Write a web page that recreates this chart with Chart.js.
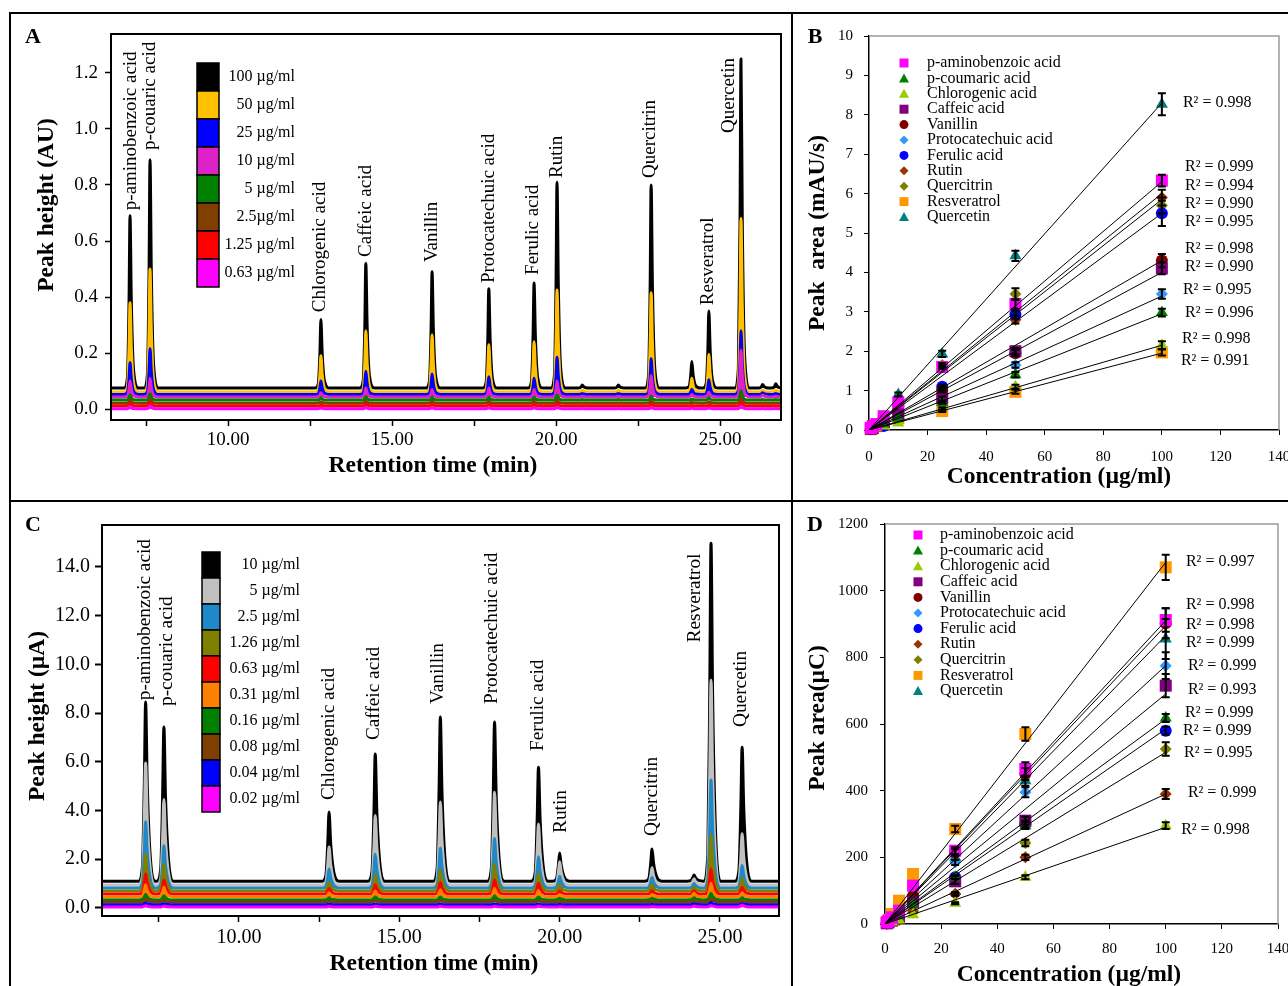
<!DOCTYPE html>
<html><head><meta charset="utf-8">
<script src="https://cdn.jsdelivr.net/npm/chart.js@4.4.1/dist/chart.umd.min.js"></script>
<style>
html,body{margin:0;padding:0;background:#fff;}
body{width:1288px;height:986px;overflow:hidden;position:relative;}
.ln{position:absolute;background:#000;}
canvas{position:absolute;}
</style></head>
<body>
<div class="ln" style="left:9px;top:12px;width:1279px;height:2px"></div>
<div class="ln" style="left:9px;top:12px;width:2px;height:974px"></div>
<div class="ln" style="left:9px;top:500px;width:1279px;height:2px"></div>
<div class="ln" style="left:791px;top:12px;width:2px;height:974px"></div>
<canvas id="cA" width="780" height="486" style="left:11px;top:14px"></canvas>
<canvas id="cB" width="495" height="486" style="left:793px;top:14px"></canvas>
<canvas id="cC" width="780" height="484" style="left:11px;top:502px"></canvas>
<canvas id="cD" width="495" height="484" style="left:793px;top:502px"></canvas>
<script>
// ======================= DATA =======================
// ---- Panel A : HPLC-UV chromatograms (peak retention times in min, apex heights in AU)
const retentionA = [7.01,7.62,12.83,14.20,16.22,17.95,19.33,20.03,20.80,21.90,22.90,24.14,24.66,25.64,26.30,26.70];
const concLabelsA = ['100 µg/ml','50 µg/ml','25 µg/ml','10 µg/ml','5 µg/ml','2.5µg/ml','1.25 µg/ml','0.63 µg/ml'];
const baselineA = [0.075,0.061,0.052,0.043,0.032,0.021,0.011,0.001];
const apexA_100  = [0.69,0.89,0.32,0.52,0.49,0.43,0.45,0.81,0.086,0.086,0.80,0.17,0.35,1.25,0.088,0.09];
const apexA_50   = [0.38,0.50,0.19,0.28,0.265,0.23,0.24,0.425,0.068,0.068,0.415,0.11,0.195,0.68,0.068,0.068];
const apexA_25   = [0.165,0.215,0.10,0.135,0.125,0.115,0.11,0.185,0.056,0.056,0.18,0.07,0.105,0.28,0.058,0.056];
const apexA_10   = [0.10,0.11,0.058,0.075,0.07,0.075,0.07,0.10,0.046,0.046,0.12,0.052,0.06,0.21,0.05,0.046];
const apexA_5    = [0.05,0.055,0.04,0.045,0.042,0.042,0.042,0.05,0.034,0.034,0.046,0.036,0.04,0.065,0.034,0.034];
const apexA_2_5  = [0.032,0.036,0.026,0.03,0.028,0.028,0.028,0.032,0.022,0.022,0.03,0.024,0.026,0.04,0.022,0.022];
const apexA_1_25 = [0.02,0.024,0.014,0.017,0.016,0.016,0.016,0.019,0.012,0.012,0.017,0.013,0.014,0.024,0.012,0.012];
const apexA_0_63 = [0.008,0.011,0.004,0.006,0.005,0.005,0.005,0.007,0.002,0.002,0.006,0.003,0.004,0.01,0.002,0.002];
const peakNamesA = ['p-aminobenzoic acid','p-couaric acid','Chlorogenic acid','Caffeic acid','Vanillin','Protocatechuic acid','Ferulic acid','Rutin','Quercitrin','Resveratrol','Quercetin'];
const peakLabelTimeA  = [7.04,7.62,12.80,14.20,16.22,17.95,19.30,20.03,22.86,24.63,25.27];
const peakLabelValueA = [0.71,0.925,0.346,0.543,0.525,0.45,0.479,0.825,0.825,0.371,0.986];
const yTicksA = {min:-0.039, max:1.339, step:0.2};
const xTicksA = {min:6.43, max:26.86, step:2.5};

// ---- Panel C : HPLC-ECD chromatograms (min, µA)
const retentionC = [7.09,7.66,12.81,14.25,16.28,17.97,19.34,20.00,22.88,24.19,24.72,25.69];
const concLabelsC = ['10 µg/ml','5 µg/ml','2.5 µg/ml','1.26 µg/ml','0.63 µg/ml','0.31 µg/ml','0.16 µg/ml','0.08 µg/ml','0.04 µg/ml','0.02 µg/ml'];
const baselineC = [1.1,0.94,0.82,0.7,0.57,0.45,0.33,0.24,0.13,0.04];
const apexC_10   = [8.45,7.43,3.94,6.32,7.84,7.63,5.78,2.26,2.42,1.35,14.97,6.6];
const apexC_5    = [5.95,4.45,2.5,3.8,4.35,4.75,3.45,1.9,1.65,1.2,9.35,3.05];
const apexC_2_5  = [3.55,2.55,1.6,2.2,2.45,2.85,2.1,1.3,1.25,1.0,5.25,1.75];
const apexC_1_26 = [2.2,1.8,1.05,1.35,1.55,1.8,1.4,0.95,0.95,0.85,3.0,1.2];
const apexC_0_63 = [1.4,1.15,0.8,0.95,1.05,1.15,1.0,0.7,0.7,0.7,1.6,0.85];
const apexC_0_31 = [0.95,0.85,0.62,0.7,0.75,0.8,0.72,0.55,0.55,0.6,1.0,0.62];
const apexC_0_16 = [0.55,0.5,0.42,0.45,0.45,0.5,0.45,0.4,0.4,0.42,0.6,0.42];
const apexC_0_08 = [0.35,0.32,0.28,0.3,0.3,0.32,0.3,0.27,0.27,0.3,0.4,0.3];
const apexC_0_04 = [0.2,0.18,0.15,0.16,0.16,0.17,0.16,0.14,0.14,0.18,0.22,0.18];
const apexC_0_02 = [0.09,0.08,0.06,0.07,0.07,0.07,0.07,0.05,0.05,0.08,0.1,0.12];
const peakNamesC = peakNamesA;
const peakLabelTimeC  = [7.06,7.75,12.81,14.22,16.22,17.90,19.31,20.04,22.88,24.22,25.65];
const peakLabelValueC = [8.53,8.29,4.43,6.89,8.37,8.37,6.44,3.08,2.95,10.9,7.43];
const yTicksC = {min:-0.33, max:15.72, step:2};
const xTicksC = {min:5.73, max:26.84, step:2.5};

// ---- Panels B & D : calibration curves
const compounds = ['p-aminobenzoic acid','p-coumaric acid','Chlorogenic acid','Caffeic acid','Vanillin','Protocatechuic acid','Ferulic acid','Rutin','Quercitrin','Resveratrol','Quercetin'];
const concCal = [0.63,1.25,2.5,5,10,25,50,100];
// B: peak area (mAU/s), one row per compound
const areaB = [
  [0.05,0.10,0.15,0.35,0.70,1.60,3.20,6.33],
  [0.02,0.04,0.08,0.15,0.30,0.70,1.40,2.98],
  [0.01,0.03,0.05,0.10,0.18,0.55,1.10,2.15],
  [0.03,0.05,0.10,0.20,0.40,0.80,2.00,4.10],
  [0.03,0.05,0.10,0.20,0.45,1.00,1.95,4.30],
  [0.02,0.04,0.08,0.17,0.35,0.70,1.65,3.45],
  [0.03,0.05,0.10,0.10,0.60,1.10,2.93,5.50],
  [0.03,0.05,0.10,0.25,0.50,1.05,2.80,5.90],
  [0.03,0.06,0.12,0.30,0.70,1.65,3.45,5.70],
  [0.02,0.04,0.10,0.15,0.30,0.48,0.97,1.97],
  [0.03,0.06,0.12,0.25,0.90,1.93,4.42,8.27]
];
const errB = [
  [0,0,0,0,0,0.05,0.12,0.15],[0,0,0,0,0,0.03,0.07,0.10],[0,0,0,0,0,0.03,0.05,0.10],
  [0,0,0,0,0,0.05,0.08,0.15],[0,0,0,0,0,0.05,0.08,0.17],[0,0,0,0,0,0.03,0.07,0.12],
  [0,0,0,0,0,0.05,0.10,0.32],[0,0,0,0,0,0.05,0.10,0.20],[0,0,0,0,0,0.05,0.15,0.20],
  [0,0,0,0,0,0.02,0.05,0.08],[0,0,0,0,0.05,0.08,0.13,0.28]
];
const fitB100 = [6.30,2.95,2.15,4.00,4.30,3.40,5.50,6.00,5.85,1.95,8.30];
const r2B = ['R² = 0.998','R² = 0.999','R² = 0.994','R² = 0.990','R² = 0.995','R² = 0.998','R² = 0.990','R² = 0.995','R² = 0.996','R² = 0.998','R² = 0.991'];
const r2B_anchorX = [107.2,107.9,107.9,107.9,107.9,107.9,107.9,107.2,107.9,106.9,106.5];
const r2B_anchorY = [8.30,6.67,6.19,5.74,5.28,4.59,4.14,3.55,2.97,2.31,1.75];
// D: peak area (µC)
const areaD = [
  [5,10,20,40,115,220,465,912],
  [3,6,12,25,60,140,295,618],
  [1,3,6,12,28,62,140,295],
  [2,5,10,20,65,128,310,715],
  [4,9,18,38,85,215,450,902],
  [3,7,15,30,75,185,395,775],
  [2,5,10,22,68,140,300,580],
  [1,3,6,12,35,90,200,390],
  [1,3,7,14,40,90,243,525],
  [6,12,30,70,150,285,570,1070],
  [2,4,8,18,90,200,430,855]
];
const errD = [
  [0,0,0,0,0,10,20,35],[0,0,0,0,0,5,10,12],[0,0,0,0,0,3,6,10],[0,0,0,0,0,8,12,35],
  [0,0,0,0,0,10,18,45],[0,0,0,0,0,8,15,40],[0,0,0,0,0,6,10,12],[0,0,0,0,0,4,8,15],
  [0,0,0,0,0,5,10,20],[0,0,0,0,0,10,20,38],[0,0,0,0,0,8,15,60]
];
const fitD100 = [910,615,290,690,895,775,585,390,515,1085,865];
const r2D = ['R² = 0.997','R² = 0.998','R² = 0.998','R² = 0.999','R² = 0.999','R² = 0.993','R² = 0.999','R² = 0.999','R² = 0.995','R² = 0.999','R² = 0.998'];
const r2D_anchorX = [107.2,107.2,107.2,107.2,107.9,107.9,106.9,106.2,106.5,107.9,105.5];
const r2D_anchorY = [1086,957,897,843,774,702,633,579,513,393,282];

// ======================= STYLE =======================
const SERIF = "'Liberation Serif','Times New Roman',serif";
Chart.defaults.font.family = SERIF;
Chart.defaults.color = '#000';
const colorsA = ['#000000','#FFC000','#0000FF','#DD22C8','#008000','#7F3F00','#FF0000','#FF00FF'];
const colorsC = ['#000000','#C0C0C0','#1F88C9','#808000','#FF0000','#FF8000','#008000','#7F3F00','#0000FF','#FF00FF'];
const compColors = ['#FF00FF','#008000','#99CC00','#800080','#800000','#3399FF','#0000FF','#993300','#808000','#FF9900','#008080'];
const compStyles = ['rect','triangle','triangle','rect','circle','rectRot','circle','rectRot','rectRot','rect','triangle'];
const markerRadius = {rect:8.5, triangle:7, circle:6, rectRot:6};
const shapeA = {dt:[-0.18,-0.08,-0.03,0,0.04,0.11,0.26], f:[0,0.06,0.5,1,0.5,0.1,0]};
const shapeC = {dt:[-0.22,-0.10,-0.04,0,0.05,0.14,0.30], f:[0,0.08,0.55,1,0.55,0.15,0]};
const TITLE = 'bold 23.5px '+SERIF;

function tracePoints(times, apex, base, shape, x0, x1){
  const pts=[{x:x0,y:base}];
  times.forEach((t,i)=>{
    const h=apex[i]-base; if(h<=0) return;
    shape.dt.forEach((d,k)=>pts.push({x:t+d,y:base+h*shape.f[k]}));
  });
  pts.push({x:x1,y:base});
  return pts;
}
function txt(ctx,s,x,y,font,align,rot){
  ctx.save(); ctx.font=font; ctx.fillStyle='#000'; ctx.textAlign=align||'center'; ctx.textBaseline='middle';
  ctx.translate(x,y); if(rot) ctx.rotate(rot); ctx.fillText(s,0,0); ctx.restore();
}
function marker(ctx,style,x,y,s,color){
  ctx.save(); ctx.fillStyle=color; ctx.beginPath();
  if(style==='rect') ctx.rect(x-s/2,y-s/2,s,s);
  else if(style==='circle') ctx.arc(x,y,s/2,0,Math.PI*2);
  else if(style==='triangle'){ctx.moveTo(x,y-s/2);ctx.lineTo(x+s/2,y+s*0.4);ctx.lineTo(x-s/2,y+s*0.4);ctx.closePath();}
  else {ctx.moveTo(x,y-s/2);ctx.lineTo(x+s/2,y);ctx.lineTo(x,y+s/2);ctx.lineTo(x-s/2,y);ctx.closePath();}
  ctx.fill(); ctx.restore();
}
function fixW(w){return s=>{s.width=w;s.paddingTop=0;s.paddingBottom=0;s.paddingLeft=0;s.paddingRight=0;};}
function fixH(h){return s=>{s.height=h;s.paddingTop=0;s.paddingBottom=0;s.paddingLeft=0;s.paddingRight=0;};}

// ======================= CHROMATOGRAM CHARTS =======================
function chromChart(id, cfg){
  const ds = cfg.apex.map((ap,i)=>({
    type:'line', data:tracePoints(cfg.times, ap, cfg.base[i], cfg.shape, 5.0, 27.5),
    borderColor:cfg.colors[i], backgroundColor:cfg.colors[i], borderWidth:3, pointRadius:0,
    fill:{value:cfg.base[i]}, cubicInterpolationMode:'monotone', borderJoinStyle:'round', order:-i
  }));
  const deco = {id:'deco'+id, afterDraw(chart){
    const ctx=chart.ctx, a=chart.chartArea, xs=chart.scales.x, ys=chart.scales.y;
    ctx.save(); ctx.strokeStyle='#000'; ctx.lineWidth=2;
    ctx.strokeRect(a.left,a.top,a.right-a.left,a.bottom-a.top); ctx.restore();
    cfg.labels.forEach((s,i)=>txt(ctx,s,xs.getPixelForValue(cfg.labelT[i]),ys.getPixelForValue(cfg.labelV[i]),cfg.labelFont+'px '+SERIF,'left',-Math.PI/2));
    cfg.legend.forEach((s,i)=>{
      const y=cfg.lg.top+cfg.lg.h*i;
      ctx.save(); ctx.fillStyle=cfg.colors[i]; ctx.fillRect(cfg.lg.x,y,cfg.lg.w,cfg.lg.h);
      ctx.strokeStyle='#000'; ctx.lineWidth=1.5; ctx.strokeRect(cfg.lg.x,y,cfg.lg.w,cfg.lg.h); ctx.restore();
      txt(ctx,s,cfg.lg.textRight,y+cfg.lg.h/2,'16px '+SERIF,'right');
    });
    txt(ctx,cfg.letter,22,23,'bold 22px '+SERIF,'center');
    txt(ctx,cfg.yTitle,cfg.yt[0],cfg.yt[1],TITLE,'center',-Math.PI/2);
    txt(ctx,cfg.xTitle,cfg.xt[0],cfg.xt[1],TITLE,'center');
  }};
  return new Chart(document.getElementById(id),{
    type:'line', data:{datasets:ds},
    options:{responsive:false, animation:false, devicePixelRatio:1, events:[],
      layout:{padding:cfg.pad},
      plugins:{legend:{display:false},tooltip:{enabled:false}},
      scales:{
        x:{type:'linear',min:cfg.xr.min,max:cfg.xr.max,afterFit:fixH(cfg.xh),
          ticks:{stepSize:cfg.xr.step,includeBounds:false,autoSkip:false,maxRotation:0,minRotation:0,padding:cfg.xpad,font:{size:cfg.tickFont},color:'#000',
            callback:v=>(Math.abs(v%5)<1e-6||Math.abs(v%5-5)<1e-6)?v.toFixed(2):''},
          grid:{drawOnChartArea:false,drawTicks:true,tickLength:6,tickColor:'#000',tickWidth:1.5},
          border:{color:'#000',width:2}},
        y:{min:cfg.yr.min,max:cfg.yr.max,afterFit:fixW(cfg.yw),
          ticks:{stepSize:cfg.yr.step,includeBounds:false,padding:cfg.ypad,font:{size:cfg.tickFont},color:'#000',callback:v=>v.toFixed(1)},
          grid:{drawOnChartArea:false,drawTicks:true,tickLength:cfg.ytl,tickColor:'#000',tickWidth:cfg.ytw},
          border:{color:'#000',width:2}}
      }},
    plugins:[deco]
  });
}

chromChart('cA',{
  times:retentionA, base:baselineA, colors:colorsA, shape:shapeA,
  apex:[apexA_100,apexA_50,apexA_25,apexA_10,apexA_5,apexA_2_5,apexA_1_25,apexA_0_63],
  labels:peakNamesA, labelT:peakLabelTimeA, labelV:peakLabelValueA, labelFont:19,
  legend:concLabelsA, lg:{x:186,w:22,top:49,h:28,textRight:284},
  letter:'A', yTitle:'Peak height (AU)', yt:[36,191], xTitle:'Retention time (min)', xt:[422,452],
  pad:{top:20,right:10,left:0,bottom:0}, xr:xTicksA, yr:yTicksA, xh:80, yw:100, xpad:2.6, ypad:7, ytl:6, ytw:1.5, tickFont:19
});
chromChart('cC',{
  times:retentionC, base:baselineC, colors:colorsC, shape:shapeC,
  apex:[apexC_10,apexC_5,apexC_2_5,apexC_1_26,apexC_0_63,apexC_0_31,apexC_0_16,apexC_0_08,apexC_0_04,apexC_0_02],
  labels:peakNamesC, labelT:peakLabelTimeC, labelV:peakLabelValueC, labelFont:19.3,
  legend:concLabelsC, lg:{x:191,w:18,top:50,h:26,textRight:289},
  letter:'C', yTitle:'Peak height (µA)', yt:[27,214], xTitle:'Retention time (min)', xt:[423,462],
  pad:{top:23,right:12,left:0,bottom:0}, xr:xTicksC, yr:yTicksC, xh:70, yw:91, xpad:4, ypad:5, ytl:7, ytw:2, tickFont:20
});

// ======================= CALIBRATION CHARTS =======================
function calChart(id, cfg){
  const ds=[];
  compounds.forEach((name,i)=>{
    ds.push({type:'scatter',label:name,data:concCal.map((c,k)=>({x:c,y:cfg.area[i][k]})),
      pointStyle:compStyles[i],pointRadius:markerRadius[compStyles[i]],backgroundColor:compColors[i],
      borderColor:compColors[i],borderWidth:0,clip:false,order:10});
    ds.push({type:'line',data:[{x:0,y:0},{x:100,y:cfg.fit[i]}],borderColor:'#000',borderWidth:1,pointRadius:0,fill:false,order:0});
  });
  const deco={id:'deco'+id,
    afterDatasetsDraw(chart){
      const ctx=chart.ctx, xs=chart.scales.x, ys=chart.scales.y;
      ctx.save(); ctx.strokeStyle='#000'; ctx.lineWidth=2;
      compounds.forEach((n,i)=>concCal.forEach((c,k)=>{
        const e=cfg.err[i][k]; if(!e) return;
        const x=xs.getPixelForValue(c), y1=ys.getPixelForValue(cfg.area[i][k]-e), y2=ys.getPixelForValue(cfg.area[i][k]+e);
        ctx.beginPath(); ctx.moveTo(x,y1); ctx.lineTo(x,y2);
        ctx.moveTo(x-4,y1); ctx.lineTo(x+4,y1); ctx.moveTo(x-4,y2); ctx.lineTo(x+4,y2); ctx.stroke();
      }));
      ctx.restore();
    },
    afterDraw(chart){
      const ctx=chart.ctx, a=chart.chartArea, xs=chart.scales.x, ys=chart.scales.y;
      ctx.save(); ctx.strokeStyle='#9a9a9a'; ctx.lineWidth=1.5; ctx.beginPath();
      ctx.moveTo(a.left,a.top); ctx.lineTo(a.right,a.top); ctx.lineTo(a.right,a.bottom); ctx.stroke(); ctx.restore();
      cfg.r2.forEach((s,i)=>txt(ctx,s,xs.getPixelForValue(cfg.r2x[i]),ys.getPixelForValue(cfg.r2y[i]),'16px '+SERIF,'left'));
      compounds.forEach((s,i)=>{
        const y=cfg.lg.top+cfg.lg.step*i;
        const st=compStyles[i];
        marker(ctx,st,cfg.lg.mx,y,st==='rect'?9:(st==='triangle'?10:9),compColors[i]);
        txt(ctx,s,cfg.lg.tx,y,'16px '+SERIF,'left');
      });
      txt(ctx,cfg.letter,22,23,'bold 22px '+SERIF,'center');
      txt(ctx,cfg.yTitle,cfg.yt[0],cfg.yt[1],TITLE,'center',-Math.PI/2);
      txt(ctx,cfg.xTitle,cfg.xt[0],cfg.xt[1],TITLE,'center');
    }};
  return new Chart(document.getElementById(id),{
    type:'scatter', data:{datasets:ds},
    options:{responsive:false,animation:false,devicePixelRatio:1,events:[],
      layout:{padding:cfg.pad},
      plugins:{legend:{display:false},tooltip:{enabled:false}},
      scales:{
        x:{type:'linear',min:0,max:140,afterFit:fixH(cfg.xh),
          ticks:{stepSize:20,autoSkip:false,maxRotation:0,padding:cfg.xpad,font:{size:15},color:'#000',callback:v=>String(v)},
          grid:{drawOnChartArea:false,tickLength:5,tickColor:'#000'},border:{color:'#000',width:1.5}},
        y:{min:0,max:cfg.ymax,afterFit:fixW(cfg.yw),
          ticks:{stepSize:cfg.ystep,padding:cfg.ypad,font:{size:15},color:'#000',callback:v=>String(v)},
          grid:{drawOnChartArea:false,tickLength:5,tickColor:'#000'},border:{color:'#000',width:1.5}}
      }},
    plugins:[deco]
  });
}

calChart('cB',{area:areaB, err:errB, fit:fitB100, r2:r2B, r2x:r2B_anchorX, r2y:r2B_anchorY,
  lg:{mx:111,tx:134,top:49,step:15.4}, letter:'B', yTitle:'Peak  area (mAU/s)', yt:[25,219],
  xTitle:'Concentration (µg/ml)', xt:[266,463], pad:{top:22,right:9,left:0,bottom:0},
  xh:70, yw:76, xpad:13, ypad:11, ymax:10, ystep:1});
calChart('cD',{area:areaD, err:errD, fit:fitD100, r2:r2D, r2x:r2D_anchorX, r2y:r2D_anchorY,
  lg:{mx:125,tx:147,top:33,step:15.6}, letter:'D', yTitle:'Peak area(µC)', yt:[25,216],
  xTitle:'Concentration (µg/ml)', xt:[276,473], pad:{top:22,right:10,left:0,bottom:0},
  xh:62, yw:92, xpad:11, ypad:12, ymax:1200, ystep:200});
</script>
</body></html>
